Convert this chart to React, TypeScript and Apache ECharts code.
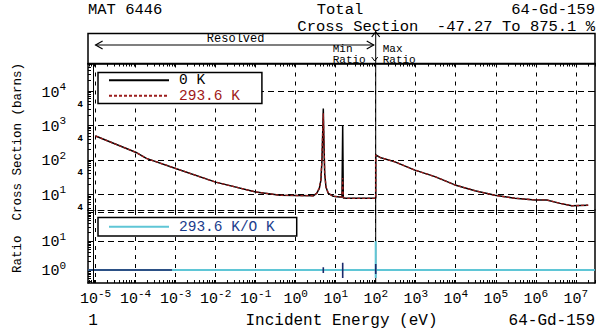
import { useEffect, useRef } from "react";
import * as echarts from "echarts";

const FONT = "'Liberation Mono', 'DejaVu Sans Mono', monospace";

// ---- data (energy in eV, cross section in barns) ----
const energy0K = [1e-5, 1e-4, 1.86e-4, 1e-3, 1e-2, 0.1, 0.41, 2.75, 3.35, 3.9, 4.27, 4.54, 4.73, 4.9, 5.09, 5.31, 5.71, 6.53, 8.71, 12.3, 14.35, 14.96, 15.5, 18.8, 99.9, 100, 129, 302, 955, 3020, 9550, 30200, 95500, 3.02e5, 9.55e5, 1.86e6, 4.07e6, 7.94e6, 2.04e7];
const xs0K = [490, 166, 110, 56, 22.4, 11.6, 9.3, 9.0, 10.5, 14.8, 25.7, 98, 589, 3090, 302, 39.8, 16.2, 10.5, 8.7, 8.3, 8.3, 1000, 7.8, 7.6, 7.6, 138, 117, 87, 50, 32.4, 18.6, 12.6, 9.3, 7.6, 6.8, 6.8, 5.4, 4.6, 4.8];

const energy294K = [1e-5, 1e-4, 1.86e-4, 1e-3, 1e-2, 0.1, 0.41, 2.75, 3.35, 3.9, 4.27, 4.54, 4.73, 4.9, 5.09, 5.31, 5.71, 6.53, 8.71, 12.3, 14.35, 14.7, 14.96, 15.2, 15.5, 18.8, 99.9, 100, 129, 302, 955, 3020, 9550, 30200, 95500, 3.02e5, 9.55e5, 1.86e6, 4.07e6, 7.94e6, 2.04e7];
const xs294K = [490, 166, 110, 56, 22.4, 11.6, 9.3, 9.0, 10.6, 15.2, 27, 110, 700, 2240, 360, 42, 16.5, 10.6, 8.7, 8.3, 8.4, 15, 29.5, 15, 8.0, 7.6, 7.6, 138, 117, 87, 50, 32.4, 18.6, 12.6, 9.3, 7.6, 6.8, 6.8, 5.4, 4.6, 4.8];

const ratioEnergy = [6.5e-6, 99.9, 100, 100, 100.1, 3.0e7];
const ratioValue = [1, 1, 9.75, 0.527, 1, 1];

const ratioDetailEnergy = [6.5e-6, 8.1e-4, null, 4.9, 4.9, null, 14.96, 14.96, null, 100, 100];
const ratioDetailValue = [1, 1, null, 0.78, 1.23, null, 0.53, 1.78, null, 0.73, 1.6];

// axis ranges (log10 decades)
const X_MIN = -5.19;
const X_MAX = 7.48;
const Y_TOP_MIN = 0.54;
const Y_TOP_MAX = 4.8;
const Y_BOT_MIN = -0.45;
const Y_BOT_MAX = 2.07;
const RESOLVED_START = 1e-5;
const RESOLVED_END = 100;

const lg = Math.log10;
const toPts = (e: (number | null)[], v: (number | null)[]) =>
  e.map((x, i) => (x == null || v[i] == null ? ["-", "-"] : [lg(x), lg(v[i] as number)]));

const decadeTicks = (lo: number, hi: number, ks: number[]) => {
  const out: number[] = [];
  for (let n = Math.floor(lo) - 1; n <= Math.ceil(hi); n++)
    for (const k of ks) {
      const v = n + lg(k);
      if (v > lo + 1e-6 && v < hi - 1e-6) out.push(v);
    }
  return out;
};
const ALL = [1, 2, 3, 4, 5, 6, 7, 8, 9];
const ONE = [1];

const isInt = (v: number) => Math.abs(v - Math.round(v)) < 1e-6;

const rich = {
  b: { fontFamily: FONT, fontSize: 15, lineHeight: 19, verticalAlign: "bottom", color: "#000" },
  s: { fontFamily: FONT, fontSize: 11, lineHeight: 11, verticalAlign: "top", color: "#000" },
  g: { fontFamily: FONT, fontSize: 11, width: 17 },
  f: { fontFamily: FONT, fontSize: 9, fontWeight: "bold", color: "#000" },
};

const frame = { show: true, onZero: false, lineStyle: { color: "#000", width: 1.5 } };
const noLine = { show: false, onZero: false };
const dashedFrame = { show: true, onZero: false, lineStyle: { color: "#000", width: 1, type: [6, 4] } };
const ticks = (vals: number[], len: number) => ({ show: true, inside: true, length: len, customValues: vals, lineStyle: { color: "#000", width: 1 } });
const vSplit = { show: true, lineStyle: { color: "#000", width: 1, type: [4, 5] } };
const hSplit = { show: true, lineStyle: { color: "#000", width: 1, type: [6, 4] } };
const noSplit = { show: false };

const xBase = { type: "value", min: X_MIN, max: X_MAX, minInterval: 1, maxInterval: 1 };
const yTop = { type: "value", gridIndex: 0, min: Y_TOP_MIN, max: Y_TOP_MAX, minInterval: 1, maxInterval: 1 };
const yBot = { type: "value", gridIndex: 1, min: Y_BOT_MIN, max: Y_BOT_MAX, minInterval: 1, maxInterval: 1 };
const xMinor = decadeTicks(X_MIN, X_MAX, ALL);
const xMajor = decadeTicks(X_MIN, X_MAX, ONE);
const yTopMinor = decadeTicks(Y_TOP_MIN, Y_TOP_MAX, ALL);
const yTopMajor = decadeTicks(Y_TOP_MIN, Y_TOP_MAX, ONE);
const yBotMinor = decadeTicks(Y_BOT_MIN, Y_BOT_MAX, ALL);
const yBotMajor = decadeTicks(Y_BOT_MIN, Y_BOT_MAX, ONE);
const yTopLabels = [1, 2, 3, 4, lg(4), lg(40), lg(400), lg(4000)];
const yBotLabels = [0, 1];

const yFmt = (v: number) => (isInt(v) ? `{b|10}{s|${Math.round(v)}}{g| }` : "{f|4}");

const legendBase = {
  orient: "vertical", left: 98, itemWidth: 60, itemHeight: 12, itemGap: 0,
  borderColor: "#000", borderWidth: 1.5, backgroundColor: "#fff",
  selectedMode: false, itemStyle: { opacity: 0 },
  textStyle: { fontFamily: FONT, fontSize: 14.5, lineHeight: 15.5, padding: [0, 0, 0, 5] },
};

const option: any = {
  animation: false,
  backgroundColor: "#fff",
  grid: [
    { left: 88, right: 3, top: 63.5, height: 146.5 },
    { left: 88, right: 3, top: 210, height: 73 },
  ],
  xAxis: [
    { ...xBase, gridIndex: 0, position: "top", axisLine: frame, axisTick: ticks(xMinor, 3), axisLabel: { show: false }, splitLine: noSplit },
    { ...xBase, gridIndex: 0, position: "bottom", axisLine: dashedFrame, axisTick: ticks(xMajor, 5), axisLabel: { show: false }, splitLine: vSplit },
    { ...xBase, gridIndex: 1, position: "top", axisLine: noLine, axisTick: ticks(xMajor, 5), axisLabel: { show: false }, splitLine: vSplit },
    {
      ...xBase, gridIndex: 1, position: "bottom", axisLine: frame, axisTick: ticks(xMinor, 3),
      axisLabel: { margin: 5, formatter: (v: number) => (isInt(v) ? `{b|10}{s|${Math.round(v)}}` : ""), rich },
      splitLine: noSplit,
      name: "Incident Energy (eV)", nameLocation: "middle", nameGap: 30,
      nameTextStyle: { fontFamily: FONT, fontSize: 16, color: "#000" },
    },
  ],
  yAxis: [
    {
      ...yTop, position: "left", axisLine: frame, axisTick: ticks(yTopMinor, 3),
      axisLabel: { margin: 5, customValues: yTopLabels, formatter: yFmt, rich },
      splitLine: noSplit,
    },
    { ...yTop, position: "right", axisLine: frame, axisTick: ticks(yTopMajor, 5), axisLabel: { show: false }, splitLine: hSplit },
    {
      ...yBot, position: "left", axisLine: frame, axisTick: ticks(yBotMinor, 3),
      axisLabel: { margin: 5, customValues: yBotLabels, formatter: yFmt, rich },
      splitLine: noSplit,
    },
    { ...yBot, position: "right", axisLine: frame, axisTick: ticks(yBotMajor, 5), axisLabel: { show: false }, splitLine: hSplit },
  ],
  legend: [
    {
      ...legendBase, top: 72.5, padding: [0, 22, 0, 10],
      data: [
        { name: "0 K", textStyle: { color: "#000" } },
        { name: "293.6 K", textStyle: { color: "#a01818" } },
      ],
    },
    {
      ...legendBase, top: 217.5, padding: [1.5, 22, 1.5, 10],
      data: [{ name: "293.6 K/O K", textStyle: { color: "#1a3c8c" } }],
    },
  ],
  series: [
    {
      name: "0 K", type: "line", xAxisIndex: 0, yAxisIndex: 0, data: toPts(energy0K, xs0K),
      symbol: "none", z: 2, lineStyle: { color: "#000", width: 1.5 }, itemStyle: { color: "#000" },
    },
    {
      name: "293.6 K", type: "line", xAxisIndex: 0, yAxisIndex: 0, data: toPts(energy294K, xs294K),
      symbol: "none", z: 3, lineStyle: { color: "#9b1c1c", width: 1.3, type: [3, 2] }, itemStyle: { color: "#9b1c1c" },
    },
    {
      name: "293.6 K/O K", type: "line", xAxisIndex: 3, yAxisIndex: 2, data: toPts(ratioEnergy, ratioValue),
      symbol: "none", z: 3, lineStyle: { color: "#5fc6d6", width: 2 }, itemStyle: { color: "#5fc6d6" },
    },
    {
      name: "ratio detail", type: "line", xAxisIndex: 3, yAxisIndex: 2, data: toPts(ratioDetailEnergy, ratioDetailValue),
      symbol: "none", z: 4, connectNulls: false, lineStyle: { color: "#1b2a6b", width: 1.6 }, itemStyle: { color: "#1b2a6b" },
    },
  ],
};

const txt = (text: string, x: number, y: number, size: number, align: string, lh?: number, rotation = 0) => ({
  type: "text",
  z: 10,
  x, y, rotation,
  style: {
    text, x: 0, y: 0, fill: "#000", fontFamily: FONT, fontSize: size, lineHeight: lh ?? size + 2,
    textAlign: align, align, textVerticalAlign: "middle", verticalAlign: "middle",
  },
});

export default function App() {
  const ref = useRef<HTMLDivElement>(null);
  useEffect(() => {
    const chart = echarts.init(ref.current!, null, { renderer: "svg" });
    chart.setOption(option);
    const px = chart.convertToPixel({ xAxisIndex: 3 }, lg(RESOLVED_END)) as number;
    const xL = chart.convertToPixel({ xAxisIndex: 3 }, lg(RESOLVED_START)) as number;
    const line = { stroke: "#000", lineWidth: 1.2, fill: null };
    chart.setOption({
      graphic: [
        { type: "rect", z: 10, shape: { x: 88, y: 33.5, width: 507, height: 30 }, style: { stroke: "#000", lineWidth: 1.5, fill: null } },
        { type: "line", z: 1, shape: { x1: px, y1: 31, x2: px, y2: 283 }, style: { stroke: "#000", lineWidth: 1 } },
        { type: "polyline", z: 10, shape: { points: [[px - 4, 37], [px, 32], [px + 4, 37]] }, style: line },
        { type: "line", z: 10, shape: { x1: xL, y1: 45, x2: px - 2, y2: 45 }, style: line },
        { type: "polyline", z: 10, shape: { points: [[xL + 7, 41], [xL, 45], [xL + 7, 49]] }, style: line },
        { type: "polyline", z: 10, shape: { points: [[px - 9, 41], [px - 2, 45], [px - 9, 49]] }, style: line },
        { type: "polyline", z: 10, shape: { points: [[px - 4, 57], [px - 1, 61], [px + 2, 57]] }, style: { stroke: "#000", lineWidth: 1, fill: null } },
        { type: "line", z: 10, shape: { x1: 93.5, y1: 63.5, x2: 93.5, y2: 283 }, style: { stroke: "#000", lineWidth: 1 } },
        txt("Resolved", (xL + px) / 2, 39, 12, "center", 10),
        txt("Min\nRatio", px - 43, 54.5, 11, "left", 11),
        txt("Max\nRatio", px + 7, 54.5, 11, "left", 11),
        txt("MAT 6446", 88, 10, 15.5, "left", 17),
        txt("Total", 340, 10, 15.5, "center", 17),
        txt("64-Gd-159", 595, 10, 15.5, "right", 17),
        txt("Cross Section  -47.27 To 875.1 %", 595, 27, 15.5, "right", 17),
        txt("1", 93, 321, 16, "center"),
        txt("64-Gd-159", 595, 321, 16, "right"),
        txt("Ratio  Cross Section (barns)", 18, 168, 12.5, "center", 14, Math.PI / 2),
      ],
    });
    return () => chart.dispose();
  }, []);
  return <div ref={ref} style={{ position: "fixed", left: 0, top: 0, width: 598, height: 334 }} />;
}
